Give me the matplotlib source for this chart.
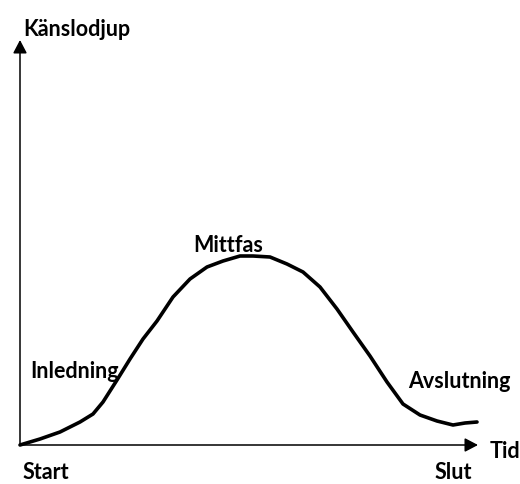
import matplotlib
import matplotlib.pyplot as plt

matplotlib.rcParams["font.family"] = ["Lato", "DejaVu Sans"]

# emotional depth over time (t = time, d = depth, px units)
time = [0, 20, 40, 60, 73, 83, 97, 110, 123, 137, 153, 170, 187, 203, 220,
        233, 250, 267, 283, 300, 317, 333, 350, 367, 383, 400, 417, 433,
        445, 457]
depth = [0, 6, 13, 23, 31, 43, 65, 86, 106, 124, 148, 166, 178, 184, 189,
         189, 188, 181, 173, 158, 136, 113, 89, 63, 41, 30, 24, 20, 22, 23]

t_end = 458      # tip of the time axis
d_end = 405      # tip of the depth axis

phase_labels = ["Inledning", "Mittfas", "Avslutning"]
phase_pos = [(10, 68), (173, 194), (388, 58)]

fig = plt.figure(figsize=(5.2, 4.85), dpi=100)
ax = fig.add_axes([0, 0, 1, 1])
ax.set_xlim(-20, 500)
ax.set_ylim(-39, 446)
ax.axis("off")

arrow = dict(arrowstyle="-|>,head_length=0.8,head_width=0.42", color="black",
             lw=1.1, mutation_scale=10, shrinkA=0, shrinkB=0)
ax.annotate("", xy=(t_end, 0), xytext=(0, 0), arrowprops=arrow)
ax.annotate("", xy=(0, d_end), xytext=(0, 0), arrowprops=arrow)

ax.plot(time, depth, color="black", lw=2.6, solid_joinstyle="round",
        solid_capstyle="round")

fs = 15.5
kw = dict(fontsize=fs, fontweight="bold", va="baseline")
ax.text(3, 410, "Känslodjup", **kw)
ax.text(470, -12, "Tid", **kw)
ax.text(3, -33, "Start", **kw)
ax.text(415, -33, "Slut", **kw)
for lab, (x, y) in zip(phase_labels, phase_pos):
    ax.text(x, y, lab, **kw)

fig.savefig("out.png", dpi=100)
